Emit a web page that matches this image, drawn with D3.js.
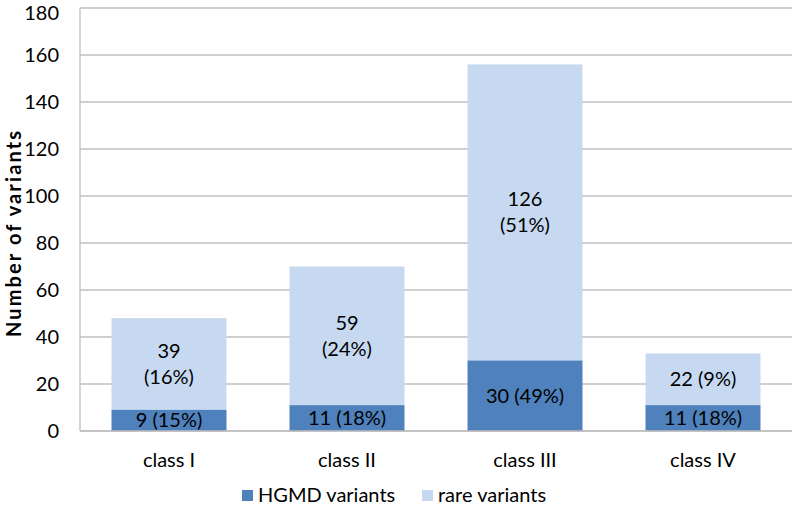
<!DOCTYPE html>
<html><head><meta charset="utf-8">
<script src="https://cdn.jsdelivr.net/npm/d3@7"></script>
<style>body{margin:0;background:#fff}svg text{font-family:Lato,"Open Sans",sans-serif;fill:#000}</style>
</head><body><svg id="c" width="792" height="507"></svg>
<script>
const categories = ["class I","class II","class III","class IV"];
const hgmd = [9,11,30,11];
const rare = [39,59,126,22];
const hgmdLabels = [["9 (15%)"],["11 (18%)"],["30 (49%)"],["11 (18%)"]];
const rareLabels = [["39","(16%)"],["59","(24%)"],["126","(51%)"],["22 (9%)"]];
const yTicks = [0,20,40,60,80,100,120,140,160,180];
const seriesNames = ["HGMD variants","rare variants"];
const colors = ["#4F81BD","#C6D9F1"];

const svg = d3.select("#c");
const m = {l:80, r:0, t:8, b:76};
const W = 792, H = 507;
const FS = "20px";
const x = d3.scaleBand().domain(categories).range([m.l, W-m.r]).paddingInner(0.354).paddingOuter(0.177);
const y = d3.scaleLinear().domain([0,180]).range([H-m.b, m.t]);

svg.append("g").selectAll("line").data(yTicks).join("line")
  .attr("x1", m.l).attr("x2", W-m.r)
  .attr("y1", d=>y(d)).attr("y2", d=>y(d))
  .attr("stroke","#BFBFBF").attr("stroke-width",1.3);
svg.append("line").attr("x1",m.l).attr("x2",m.l).attr("y1",y(0)).attr("y2",y(180)).attr("stroke","#BFBFBF").attr("stroke-width",1.3);

svg.append("g").selectAll("text").data(yTicks).join("text")
  .attr("x", 59).attr("y", d=>Math.max(y(d), 13)).attr("dy","0.35em")
  .attr("text-anchor","end").style("font-size",FS).text(d=>d);

const data = categories.map((c,i)=>({c, h:hgmd[i], r:rare[i], hl:hgmdLabels[i], rl:rareLabels[i]}));

svg.append("g").selectAll("rect").data(data).join("rect")
  .attr("x", d=>x(d.c)).attr("width", x.bandwidth())
  .attr("y", d=>y(d.h+d.r)).attr("height", d=>y(d.h)-y(d.h+d.r))
  .attr("fill", colors[1]);
svg.append("g").selectAll("rect").data(data).join("rect")
  .attr("x", d=>x(d.c)).attr("width", x.bandwidth())
  .attr("y", d=>y(d.h)).attr("height", d=>y(0)-y(d.h))
  .attr("fill", colors[0]);
svg.append("line").attr("x1",m.l).attr("x2",W-m.r).attr("y1",y(0)).attr("y2",y(0)).attr("stroke","#BFBFBF").attr("stroke-width",1.3);

function addLabels(lines, cx, cy){
  const lh = 26;
  const t = svg.append("text").attr("text-anchor","middle").style("font-size",FS);
  lines.forEach((s,k)=>{
    t.append("tspan").attr("x",cx).attr("y", cy + (k-(lines.length-1)/2)*lh).attr("dy","0.35em").text(s);
  });
}
data.forEach(d=>{
  const cx = x(d.c)+x.bandwidth()/2;
  addLabels(d.hl, cx, (y(0)+y(d.h))/2);
  addLabels(d.rl, cx, (y(d.h)+y(d.h+d.r))/2);
});

svg.append("g").selectAll("text").data(categories).join("text")
  .attr("x", d=>x(d)+x.bandwidth()/2).attr("y", 467)
  .attr("text-anchor","middle").style("font-size",FS).text(d=>d);

svg.append("text").attr("transform","translate(21,234) rotate(-90)")
  .attr("text-anchor","middle").style("font-size","20px").style("font-weight","bold")
  .attr("textLength",206).attr("lengthAdjust","spacing")
  .text("Number of variants");

const leg = [{n:seriesNames[0], c:colors[0], x:242},{n:seriesNames[1], c:colors[1], x:422}];
leg.forEach(l=>{
  svg.append("rect").attr("x",l.x).attr("y",490).attr("width",11).attr("height",11).attr("fill",l.c);
  svg.append("text").attr("x",l.x+16).attr("y",495).attr("dy","0.35em").style("font-size",FS).text(l.n);
});
</script></body></html>
